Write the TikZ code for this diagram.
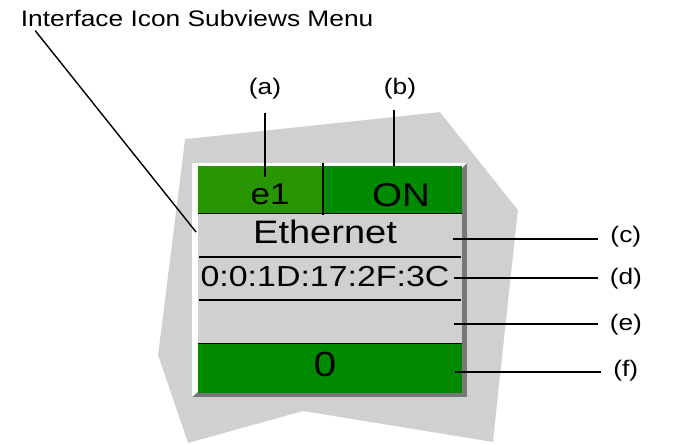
\documentclass[tikz,border=0pt]{standalone}
\usepackage{fontspec}
\setmainfont[FakeStretch=1.17]{Liberation Sans}
\usepackage{tikz}
\usepackage{xcolor}
\usetikzlibrary{calc}

\definecolor{bggray}{RGB}{208,208,208}
\definecolor{shadowgray}{RGB}{120,120,120}
\definecolor{namegreen}{RGB}{40,150,0}
\definecolor{stategreen}{RGB}{0,138,0}

\newcommand{\tagfont}{\fontsize{22.5}{27}\selectfont}

\tikzset{
  tag/.style={font=\tagfont, inner sep=0pt, anchor=base},
  pointer/.style={line width=1.4pt},
  rowline/.style={line width=1.3pt}
}

\begin{document}
\begin{tikzpicture}[x=1pt,y=-1pt]
\draw[opacity=0] (0,0) rectangle (677,444);

% grey backdrop
\fill[bggray] (185,139) -- (440,112) -- (518,210) -- (493,442) -- (303,411) -- (188,443) -- (158,355) -- cycle;

% icon frame
\fill[white] (192,163) rectangle (467,397);
\fill[shadowgray] (467,163) -- (467,397) -- (192,397) -- (198,392) -- (462,392) -- (462,168) -- cycle;
\fill[bggray] (198,166) rectangle (462,393);
\fill[namegreen] (198,166) rectangle (323,213);
\fill[stategreen] (323,166) rectangle (462,213);
\fill[stategreen] (198,343) rectangle (462,393);
\draw[line width=1pt] (198,213) -- (462,213);
\draw[rowline] (199,257) -- (461,257);
\draw[rowline] (199,300) -- (461,300);
\draw[line width=1pt] (198,343) -- (462,343);
\draw[line width=2.5pt] (323,163) -- (323,215);

% subview texts
\node[tag, font=\fontsize{30}{36}\selectfont] (cellName) at (270,204) {e1};
\node[tag, font=\fontsize{33}{40}\selectfont] (cellState) at (401,206) {ON};
\node[tag, font=\fontsize{32.5}{39}\selectfont] (rowType) at (325,243) {Ethernet};
\node[tag, font=\fontsize{29}{35}\selectfont] (rowAddr) at (325,286.5) {0:0:1D:17:2F:3C};
\node[tag, font=\fontsize{35}{42}\selectfont] (rowCount) at (325,377) {0};

% callouts
\node[tag, anchor=base west] (title) at (20.5,26) {Interface Icon Subviews Menu};
\node[tag] (lblA) at (265,94.5) {(a)};
\node[tag] (lblB) at (400,94.5) {(b)};
\node[tag] (lblC) at (626,242.5) {(c)};
\node[tag] (lblD) at (626,284.5) {(d)};
\node[tag] (lblE) at (626,330.5) {(e)};
\node[tag] (lblF) at (626,377) {(f)};

\coordinate (ptMenu) at (196,232);
\coordinate (ptA) at (265,177);
\coordinate (ptB) at (394,166);
\coordinate (ptC) at (453,239);
\coordinate (ptD) at (454,278);
\coordinate (ptE) at (454,324);
\coordinate (ptF) at (455,372);

\draw[pointer] ([xshift=14.5pt,yshift=-4pt]title.south west) -- (ptMenu);
\draw[pointer, shorten <=13.5pt] (lblA.south -| ptA) -- (ptA);
\draw[pointer, shorten <=11pt] (lblB.south -| ptB) -- (ptB);
\draw[pointer, shorten >=12pt] (ptC) -- (ptC -| lblC.west);
\draw[pointer, shorten >=12pt] (ptD) -- (ptD -| lblD.west);
\draw[pointer, shorten >=12pt] (ptE) -- (ptE -| lblE.west);
\draw[pointer, shorten >=12pt] (ptF) -- (ptF -| lblF.west);

\end{tikzpicture}
\end{document}
